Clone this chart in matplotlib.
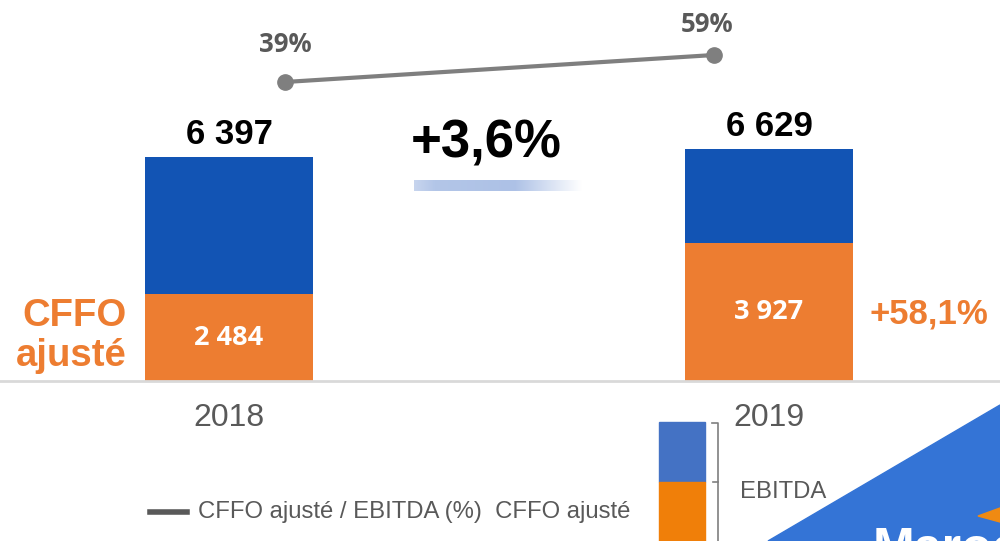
import matplotlib
matplotlib.use("Agg")
import matplotlib.pyplot as plt
import numpy as np
from matplotlib.patches import Polygon, Rectangle
from matplotlib.colors import LinearSegmentedColormap

# data
years = ["2018", "2019"]
cffo = [2484, 3927]
total = [6397, 6629]
ratio = [39, 59]
growth_total = "+3,6%"
growth_cffo = "+58,1%"

BLUE = "#1254b4"
ORANGE = "#ed7d31"
GREY = "#7f7f7f"
DARK = "#595959"
W, H = 1000, 541


def fx(px):
    return px / W


def fy(py):
    return 1 - py / H


def fmt(v):
    return f"{v:,}".replace(",", " ")


fig = plt.figure(figsize=(10, 5.41), dpi=100)

# bars
ax = fig.add_axes([0, 0, 1, 1])
ax.axis("off")
k = 6397 / 224
ax.set_xlim(-229 / 540, (W - 229) / 540)
ax.set_ylim(-160 * k, 381 * k)
x = np.arange(len(years))
top = [t - c for t, c in zip(total, cffo)]
ax.bar(x, cffo, width=0.311, color=ORANGE)
ax.bar(x, top, bottom=cffo, width=0.311, color=BLUE)
ax.axhline(0, color="#d9d9d9", lw=2)

for i in x:
    ax.annotate(fmt(total[i]), (i, total[i]), xytext=(0, 22), textcoords="offset pixels",
                ha="center", va="center", fontsize=25, fontweight="bold",
                family="Liberation Sans", color="black")
    ax.text(i, cffo[i] / 2, fmt(cffo[i]), ha="center", va="center", fontsize=19.5,
            fontweight="bold", family="Open Sans", color="white")
    ax.annotate(years[i], (i, 0), xytext=(0, -37), textcoords="offset pixels",
                ha="center", va="center", fontsize=23, family="Liberation Sans", color=DARK)

# ratio line
ax2 = fig.add_axes([0, 0, 1, 1])
ax2.axis("off")
ax2.patch.set_alpha(0)
ax2.set_xlim(-285 / 429, (W - 285) / 429)
ax2.set_ylim(-406.35 / 1.35, (H - 406.35) / 1.35)
ax2.plot(x, ratio, color=GREY, lw=3, marker="o", markersize=11)
offsets = [(0, 37), (-7, 30)]
for i in x:
    ax2.annotate(f"{ratio[i]}%", (i, ratio[i]), xytext=offsets[i], textcoords="offset pixels",
                 ha="center", va="center", fontsize=18.5, fontweight="bold",
                 family="Open Sans", color=DARK)

# growth labels
fig.text(fx(486), fy(143), growth_total, ha="center", va="center", fontsize=38,
         fontweight="bold", family="Liberation Sans", color="black")
fig.text(fx(929), fy(314), growth_cffo, ha="center", va="center", fontsize=25,
         fontweight="bold", family="Liberation Sans", color=ORANGE)
fig.text(fx(127), fy(336), "CFFO\najusté", ha="right", va="center", fontsize=27.5,
         fontweight="bold", family="Liberation Sans", color=ORANGE, linespacing=1.15)

# gradient underline
gax = fig.add_axes([fx(414), fy(191), 168 / W, 11 / H])
gax.axis("off")
cmap = LinearSegmentedColormap.from_list(
    "g", [(0, "#c8d5ee"), (0.12, "#b3c6e8"), (0.6, "#adc1e6"), (1, "#ffffff")])
gax.imshow(np.linspace(0, 1, 256)[None, :], aspect="auto", cmap=cmap)

# legend
fig.add_artist(plt.Line2D([fx(150), fx(187)], [fy(512), fy(512)], color=DARK, lw=4))
fig.text(fx(198), fy(512), "CFFO ajusté / EBITDA (%)  CFFO ajusté", ha="left", va="center",
         fontsize=17.2, family="Liberation Sans", color=DARK)
fig.add_artist(Rectangle((fx(659), fy(482)), 46 / W, 60 / H, color="#4472c4",
                         transform=fig.transFigure))
fig.add_artist(Rectangle((fx(659), 0), 46 / W, fy(482), color="#f07f09",
                         transform=fig.transFigure))
fig.add_artist(plt.Line2D([fx(712), fx(718), fx(718)], [fy(423), fy(423), 0],
                          color=GREY, lw=1.2))
fig.add_artist(plt.Line2D([fx(718), fx(713)], [fy(482), fy(482)], color=GREY, lw=1.2))
fig.text(fx(740), fy(492), "EBITDA", ha="left", va="center", fontsize=17.2,
         family="Liberation Sans", color=DARK)

# corner logo (cut by the frame, as in the source slide)
fig.add_artist(Polygon([(fx(768), 0), (1, fy(405)), (1, 0)], closed=True,
                       color="#3474d6", transform=fig.transFigure))
fig.add_artist(Polygon([(fx(978), fy(516)), (1, fy(508)), (1, fy(522))], closed=True,
                       color="#f08a12", transform=fig.transFigure))
fig.text(fx(873), fy(527), "Maroc", ha="left", va="top", fontsize=36, fontweight="bold",
         family="Liberation Sans", color="white")

fig.savefig("out.png", dpi=100)
